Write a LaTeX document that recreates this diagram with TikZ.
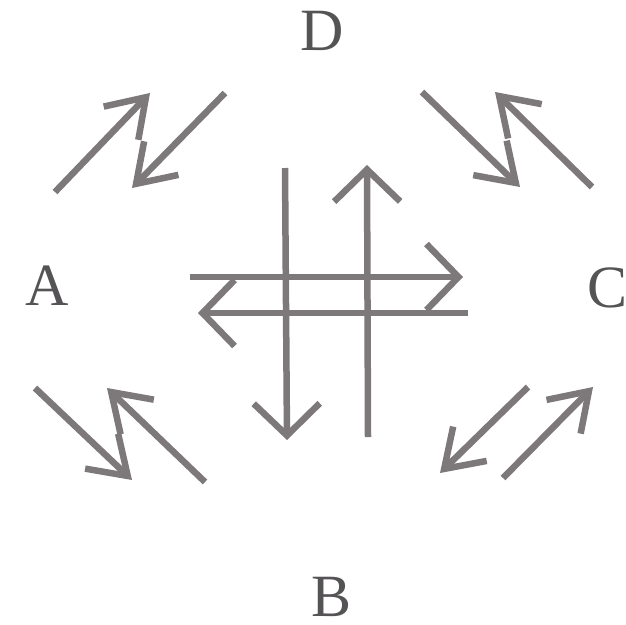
\documentclass[tikz,border=0pt]{standalone}
\usepackage{fontspec}
\setmainfont{Liberation Serif}
\usetikzlibrary{arrows.meta}
\definecolor{arrgray}{RGB}{125,120,122}
\definecolor{txtgray}{RGB}{85,83,85}
\tikzset{
  cornerarr/.style={draw=arrgray, line width=6.5pt, line cap=butt,
    -{Straight Barb[length=36pt, width=48pt]}},
  centerarr/.style={draw=arrgray, line width=6.5pt, line cap=butt,
    -{Straight Barb[length=32pt, width=66pt]}},
  lbl/.style={text=txtgray, inner sep=0pt, anchor=base,
    font=\fontsize{60}{72}\selectfont}
}
\begin{document}
\begin{tikzpicture}[x=1pt, y=-1pt]
\useasboundingbox (0,0) rectangle (626,624);
% labels
\node[lbl] (D) at (322,50) {D};
\node[lbl] (A) at (47,305) {A};
\node[lbl] (C) at (608,307) {C};
\node[lbl] (B) at (332,616) {B};
% coordinates
\coordinate (a1s) at (55,192);  \coordinate (a1e) at (150,93);
\coordinate (a2s) at (225,93);  \coordinate (a2e) at (132,188);
\coordinate (b1s) at (422,92);  \coordinate (b1e) at (520,187);
\coordinate (b2s) at (592,187); \coordinate (b2e) at (495,92);
\coordinate (c1s) at (35,388);  \coordinate (c1e) at (132,480);
\coordinate (c2s) at (205,482); \coordinate (c2e) at (107,388);
\coordinate (d1s) at (528,387); \coordinate (d1e) at (440,473);
\coordinate (d2s) at (503,478); \coordinate (d2e) at (593,387);
\coordinate (h1s) at (190,277); \coordinate (h1e) at (463,277);
\coordinate (h2s) at (468,313); \coordinate (h2e) at (198,313);
\coordinate (v1s) at (285,168); \coordinate (v1e) at (287,440);
\coordinate (v2s) at (368,437); \coordinate (v2e) at (367,165);
% corner arrows
\draw[cornerarr] (a1s) -- (a1e);
\draw[cornerarr] (a2s) -- (a2e);
\draw[cornerarr] (b1s) -- (b1e);
\draw[cornerarr] (b2s) -- (b2e);
\draw[cornerarr] (c1s) -- (c1e);
\draw[cornerarr] (c2s) -- (c2e);
\draw[cornerarr] (d1s) -- (d1e);
\draw[cornerarr] (d2s) -- (d2e);
% central arrows
\draw[centerarr] (h1s) -- (h1e);
\draw[centerarr] (h2s) -- (h2e);
\draw[centerarr] (v1s) -- (v1e);
\draw[centerarr] (v2s) -- (v2e);
\end{tikzpicture}
\end{document}
